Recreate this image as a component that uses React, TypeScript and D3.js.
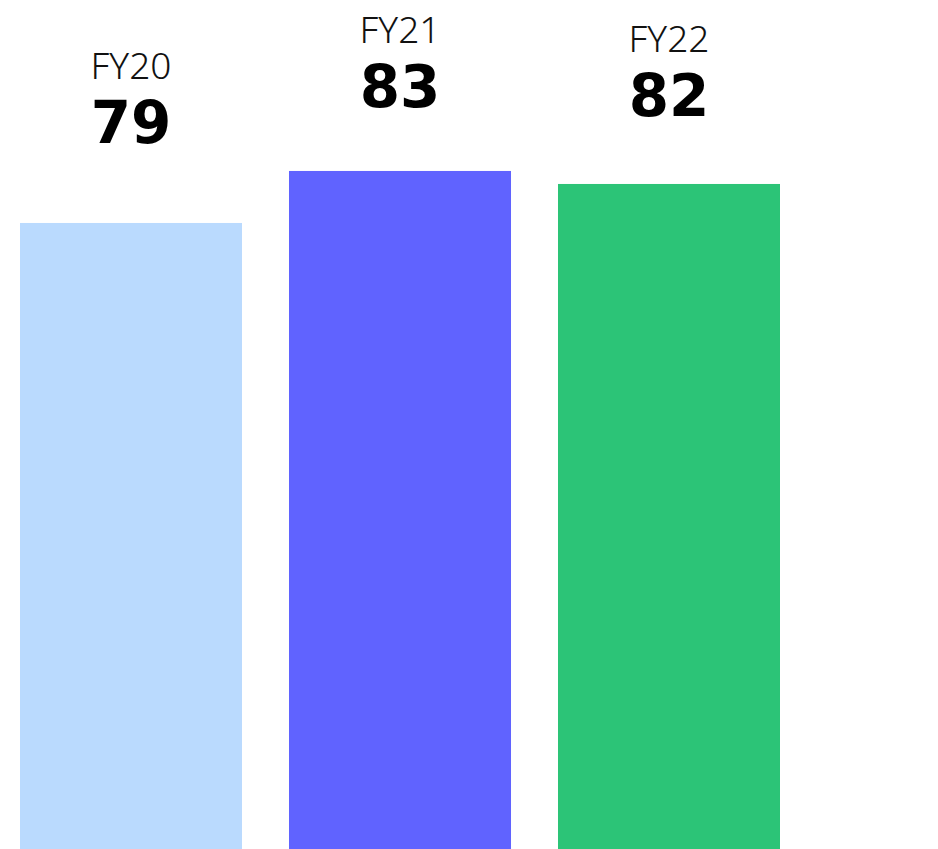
import * as d3 from "d3";
import { useEffect, useRef } from "react";

const years = ["FY20", "FY21", "FY22"];
const scores = [79, 83, 82];
const colors = ["#badafe", "#6063ff", "#2cc477"];

export default function App() {
  const ref = useRef<SVGSVGElement | null>(null);

  useEffect(() => {
    if (!ref.current) return;
    const width = 938;
    const height = 849;

    const svg = d3.select(ref.current);
    svg.selectAll("*").remove();

    const x = d3
      .scaleBand<string>()
      .domain(years)
      .range([20, 780])
      .paddingInner(0.1747)
      .paddingOuter(0);

    // bars do not start at zero, the axis is cut
    const y = d3.scaleLinear().domain([30.85, 96.15]).range([height, 0]);
    // baseline of the big number sits above the bar
    const labelY = d3.scaleLinear().domain([79, 83]).range([143, 107]);

    const data = years.map((yr, i) => ({ yr, v: scores[i], c: colors[i] }));

    svg
      .selectAll("rect")
      .data(data)
      .join("rect")
      .attr("x", (d) => x(d.yr)!)
      .attr("y", (d) => y(d.v))
      .attr("width", x.bandwidth())
      .attr("height", (d) => height - y(d.v))
      .attr("fill", (d) => d.c);

    const g = svg
      .selectAll("g.lbl")
      .data(data)
      .join("g")
      .attr("class", "lbl")
      .attr(
        "transform",
        (d) => `translate(${x(d.yr)! + x.bandwidth() / 2},${labelY(d.v)})`
      );

    g.append("text")
      .attr("text-anchor", "middle")
      .attr("y", -64)
      .style("font-family", "'Noto Sans', sans-serif")
      .style("font-weight", 300)
      .style("font-size", "37px")
      .attr("fill", "#111")
      .text((d) => d.yr);

    g.append("text")
      .attr("text-anchor", "middle")
      .style("font-family", "'DejaVu Sans', sans-serif")
      .style("font-weight", 700)
      .style("font-size", "58px")
      .attr("fill", "#000")
      .text((d) => d.v);

    svg.attr("viewBox", `0 0 ${width} ${height}`);
  }, []);

  return (
    <div style={{ position: "fixed", left: 0, top: 0, background: "#fff" }}>
      <svg ref={ref} width={938} height={849} style={{ display: "block" }} />
    </div>
  );
}
